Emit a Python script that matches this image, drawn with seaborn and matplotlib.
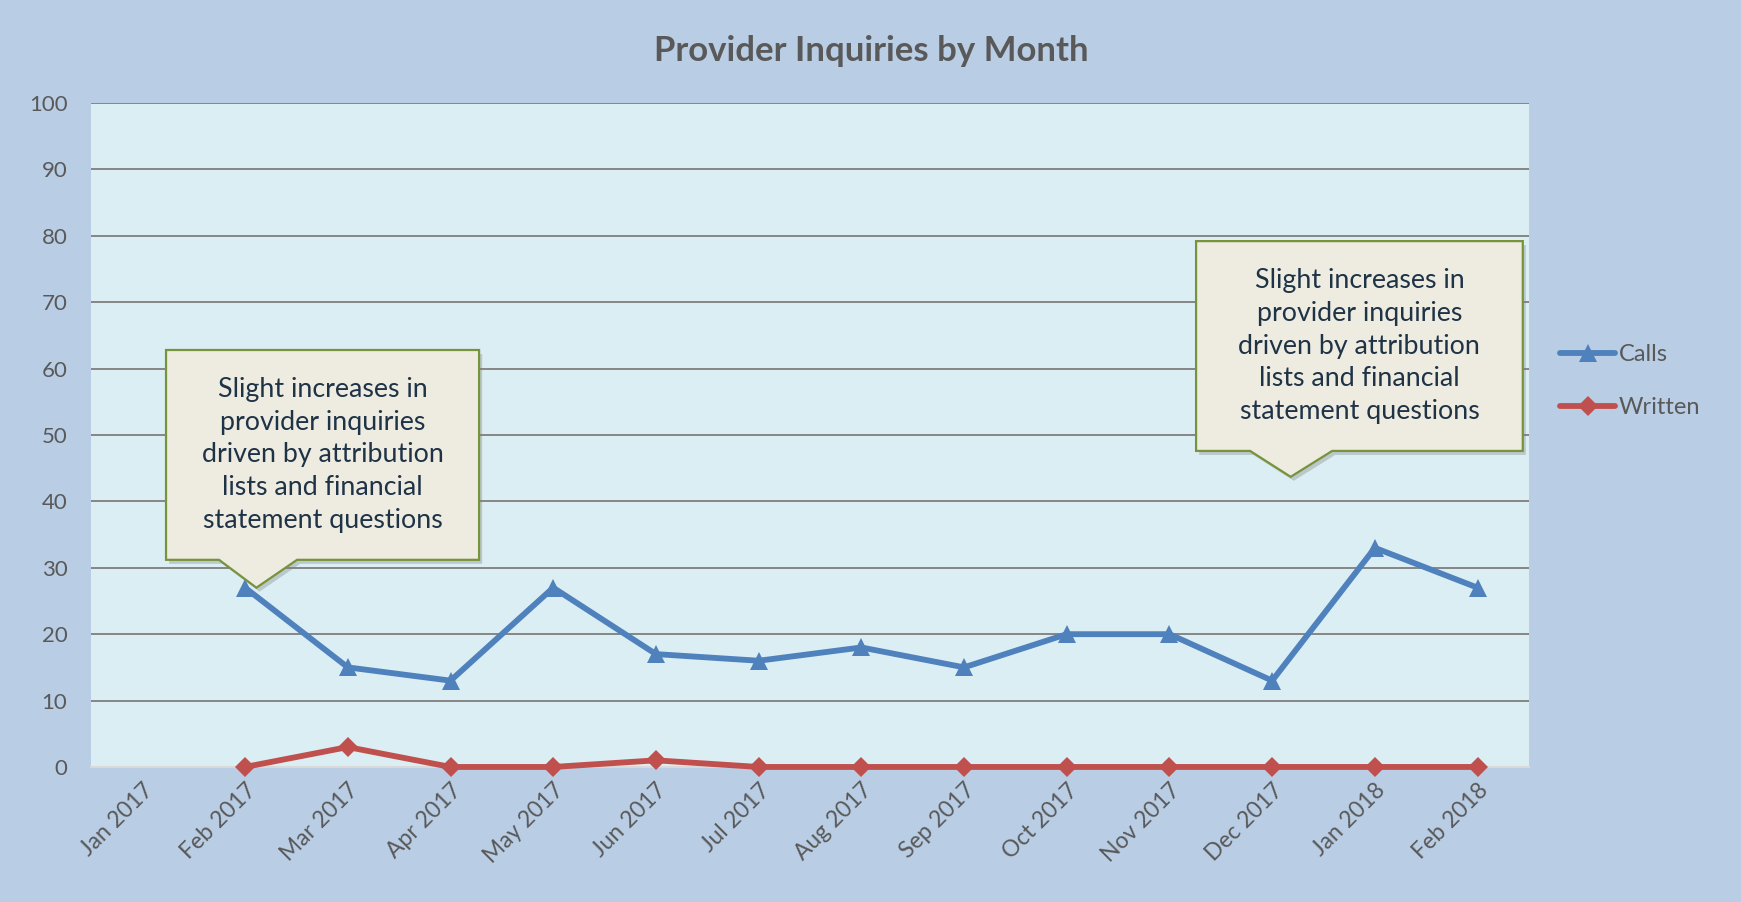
import numpy as np
import pandas as pd
import matplotlib
matplotlib.use("Agg")
import matplotlib.pyplot as plt
from matplotlib.patches import Polygon
import seaborn as sns

months = ["Jan 2017", "Feb 2017", "Mar 2017", "Apr 2017", "May 2017", "Jun 2017",
          "Jul 2017", "Aug 2017", "Sep 2017", "Oct 2017", "Nov 2017", "Dec 2017",
          "Jan 2018", "Feb 2018"]
calls = [np.nan, 27, 15, 13, 27, 17, 16, 18, 15, 20, 20, 13, 33, 27]
written = [np.nan, 0, 3, 0, 0, 1, 0, 0, 0, 0, 0, 0, 0, 0]
yticks = [0, 10, 20, 30, 40, 50, 60, 70, 80, 90, 100]
title = "Provider Inquiries by Month"
note = ("Slight increases in\nprovider inquiries\ndriven by attribution\n"
        "lists and financial\nstatement questions")

n = len(months)
xpos = np.arange(n)
df = pd.concat([
    pd.DataFrame({"x": xpos, "value": calls, "series": "Calls"}),
    pd.DataFrame({"x": xpos, "value": written, "series": "Written"}),
]).dropna()

sns.set_theme(style="white")
plt.rcParams["font.family"] = ["Lato", "DejaVu Sans"]

fig = plt.figure(figsize=(17.41, 9.02), dpi=100, facecolor="#B9CDE5")
ax = fig.add_axes([0.0523, 0.1497, 0.8259, 0.7361])
ax.set_facecolor("#DBEEF4")

LW = 4.2
sns.lineplot(data=df, x="x", y="value", hue="series", style="series",
             palette={"Calls": "#4F81BD", "Written": "#C0504D"},
             markers={"Calls": "^", "Written": "D"}, dashes=False,
             linewidth=LW, markersize=12, markeredgewidth=0,
             ax=ax, zorder=5, clip_on=False)

msizes = {"Calls": 13, "Written": 10}
for i, line in enumerate(ax.lines[:2]):
    line.set_markersize([13, 10][i])
    line.set_solid_joinstyle("round")

ax.set_xlim(-0.5, n - 0.5)
ax.set_ylim(0, 100)
ax.set_yticks(yticks)
ax.set_xticks(xpos)
ax.set_xticklabels(months, rotation=45, ha="right", rotation_mode="anchor")
ax.tick_params(axis="x", length=0, pad=9, labelsize=16.5, labelcolor="#595959")
ax.tick_params(axis="y", length=0, pad=17, labelsize=16, labelcolor="#595959")
ax.set_xlabel("")
ax.set_ylabel("")
for y in yticks[1:]:
    ax.axhline(y, color="#868686", lw=1.4, zorder=1)
for s in ["left", "right", "top"]:
    ax.spines[s].set_visible(False)
ax.spines["bottom"].set_color("#D9D9D9")
ax.spines["bottom"].set_linewidth(1.5)

handles, labels = ax.get_legend_handles_labels()
for h, lab in zip(handles, labels):
    if lab in msizes:
        h.set_markersize(msizes[lab])
        h.set_linewidth(LW)
ax.legend(handles, labels, loc="center left", bbox_to_anchor=(0.896, 0.5776),
          bbox_transform=fig.transFigure, frameon=False, fontsize=17,
          labelcolor="#595959", handlelength=2.35, handletextpad=0.15,
          labelspacing=1.35, borderpad=0, borderaxespad=0)

fig.text(0.5006, 1 - 51 / 902, title, ha="center", va="center",
         fontsize=25, fontweight="bold", color="#595959")

# callouts: (box left, box right, box bottom, box top, base left, base right, tip x, tip y)
callouts = [
    (0.230, 3.278, 31.2, 62.8, 0.746, 1.506, 1.11, 27.0),
    (10.259, 13.44, 47.6, 79.2, 10.785, 11.584, 11.18, 43.7),
]
for (l, r, b, t, bl, br, tx, ty) in callouts:
    pts = [(l, t), (r, t), (r, b), (br, b), (tx, ty), (bl, b), (l, b)]
    sh = Polygon([(px + 0.03, py - 0.6) for px, py in pts], closed=True,
                 facecolor="#7F7F7F", edgecolor="none", alpha=0.35,
                 zorder=8, clip_on=False)
    ax.add_patch(sh)
    poly = Polygon(pts, closed=True, facecolor="#EEECE1", edgecolor="#77933C",
                   lw=1.6, zorder=9, clip_on=False, joinstyle="miter")
    ax.add_patch(poly)
    ax.text((l + r) / 2, (b + t) / 2, note, ha="center", va="center",
            fontsize=19.3, color="#1F3347", linespacing=1.38, zorder=10)

fig.savefig("out.png", dpi=100, facecolor=fig.get_facecolor())
